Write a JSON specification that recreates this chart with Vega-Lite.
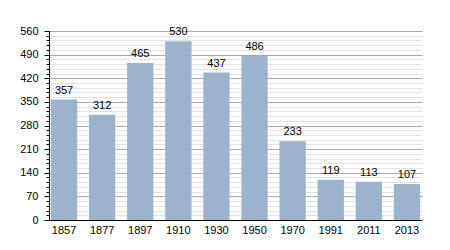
{
  "$schema": "https://vega.github.io/schema/vega-lite/v6.json",
  "width": 373,
  "height": 189,
  "autosize": {"type": "none"},
  "padding": {"left": 49, "top": 31, "right": 28, "bottom": 30},
  "background": "white",
  "config": {
    "view": {"stroke": null},
    "font": "Liberation Sans",
    "axis": {"labelFont": "Liberation Sans", "labelFontSize": 11, "labelColor": "#000"}
  },
  "data": {"values": [
    {"year": "1857", "pop": 357},
    {"year": "1877", "pop": 312},
    {"year": "1897", "pop": 465},
    {"year": "1910", "pop": 530},
    {"year": "1930", "pop": 437},
    {"year": "1950", "pop": 486},
    {"year": "1970", "pop": 233},
    {"year": "1991", "pop": 119},
    {"year": "2011", "pop": 113},
    {"year": "2013", "pop": 107}
  ]},
  "encoding": {
    "x": {"field": "year", "type": "ordinal", "sort": null,
      "scale": {"paddingInner": 0.31, "paddingOuter": 0.05},
      "axis": {"title": null, "labelAngle": 0, "ticks": false, "domainColor": "#000", "labelPadding": 4, "grid": false}}
  },
  "layer": [
    {
      "mark": {"type": "bar", "color": "#9bb3cd"},
      "encoding": {
        "y": {"field": "pop", "type": "quantitative",
          "scale": {"domain": [0, 560], "nice": false},
          "axis": {"orient": "left", "title": null, "values": [0,14,28,42,56,70,84,98,112,126,140,154,168,182,196,210,224,238,252,266,280,294,308,322,336,350,364,378,392,406,420,434,448,462,476,490,504,518,532,546,560],
            "labels": false, "tickSize": 3, "tickColor": "#000", "domain": false, "gridColor": "#e2e2e2", "grid": true}}
      }
    },
    {
      "mark": {"type": "text", "baseline": "bottom", "dy": -4, "fontSize": 11, "color": "#000"},
      "encoding": {
        "y": {"field": "pop", "type": "quantitative",
          "axis": {"orient": "left", "title": null, "values": [0,70,140,210,280,350,420,490,560],
            "tickSize": 5, "tickColor": "#000", "domainColor": "#000", "labelPadding": 6, "gridColor": "#aaaaaa", "grid": true}},
        "text": {"field": "pop", "type": "quantitative"}
      }
    }
  ],
  "resolve": {"axis": {"y": "independent"}}
}
